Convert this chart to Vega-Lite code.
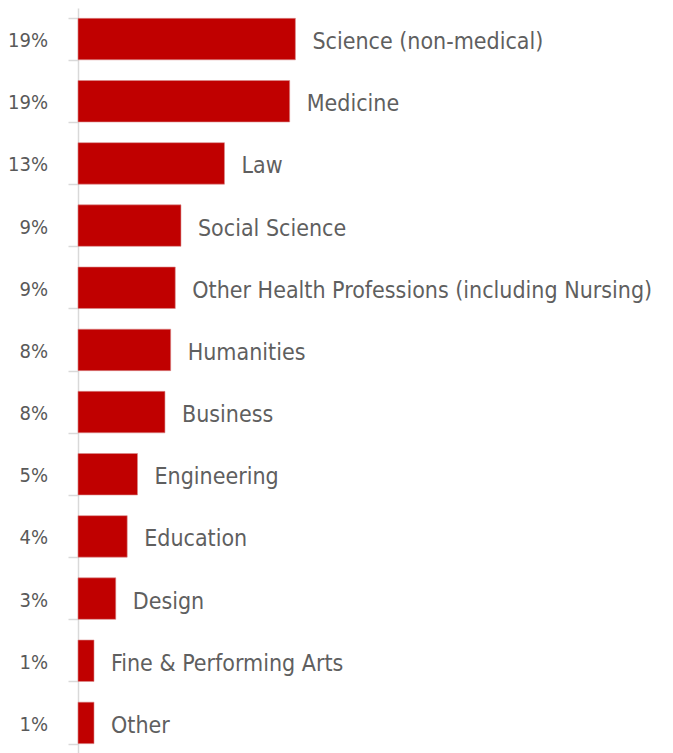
{
  "$schema": "https://vega.github.io/schema/vega-lite/v6.json",
  "width": 595,
  "height": 746,
  "autosize": "none",
  "padding": {"left": 78, "top": 8, "right": 0, "bottom": 0},
  "background": "white",
  "config": {"view": {"stroke": null}},
  "data": {
    "values": [
      {"field": "Science (non-medical)", "value": 19.0, "label": "19%"},
      {"field": "Medicine", "value": 18.5, "label": "19%"},
      {"field": "Law", "value": 12.8, "label": "13%"},
      {"field": "Social Science", "value": 9.0, "label": "9%"},
      {"field": "Other Health Professions (including Nursing)", "value": 8.5, "label": "9%"},
      {"field": "Humanities", "value": 8.1, "label": "8%"},
      {"field": "Business", "value": 7.6, "label": "8%"},
      {"field": "Engineering", "value": 5.2, "label": "5%"},
      {"field": "Education", "value": 4.3, "label": "4%"},
      {"field": "Design", "value": 3.3, "label": "3%"},
      {"field": "Fine & Performing Arts", "value": 1.4, "label": "1%"},
      {"field": "Other", "value": 1.4, "label": "1%"}
    ]
  },
  "encoding": {
    "y": {
      "field": "field",
      "type": "nominal",
      "sort": null,
      "scale": {"paddingInner": 0.333, "paddingOuter": 0.1665},
      "axis": {
        "labels": false,
        "title": null,
        "domainColor": "#d9d9d9",
        "domainWidth": 1.5,
        "tickColor": "#d9d9d9",
        "tickWidth": 1.5,
        "tickSize": 10,
        "tickBand": "extent"
      }
    }
  },
  "layer": [
    {
      "mark": {"type": "bar", "color": "#C00000", "stroke": "#d98c8c", "strokeWidth": 0.6},
      "encoding": {
        "x": {"field": "value", "type": "quantitative", "scale": {"domain": [0, 52], "nice": false}, "axis": null}
      }
    },
    {
      "mark": {"type": "text", "align": "left", "baseline": "middle", "dx": 17, "dy": 3, "fontSize": 23, "font": "DejaVu Sans Condensed", "color": "#5f5f5f"},
      "encoding": {
        "x": {"field": "value", "type": "quantitative"},
        "text": {"field": "field"}
      }
    },
    {
      "mark": {"type": "text", "align": "right", "baseline": "middle", "dx": -30, "dy": 2, "fontSize": 20, "font": "DejaVu Sans Condensed", "color": "#595959"},
      "encoding": {
        "x": {"datum": 0},
        "text": {"field": "label"}
      }
    }
  ]
}
